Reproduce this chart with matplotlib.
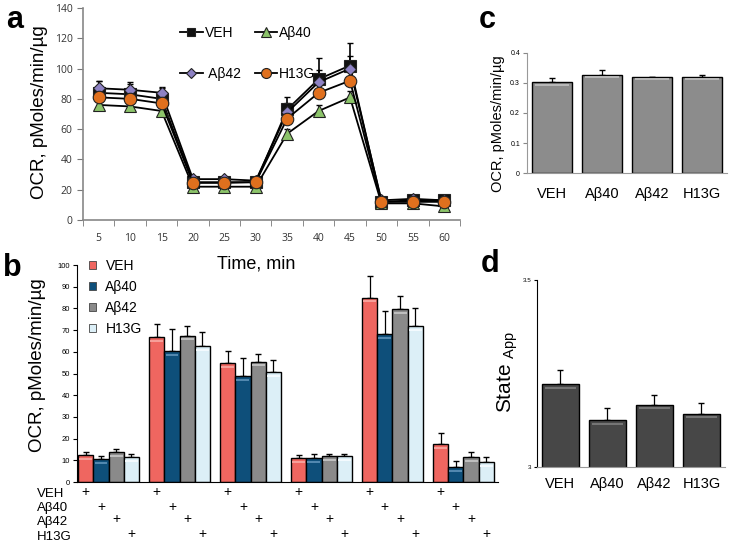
import numpy as np
import matplotlib
matplotlib.use("Agg")
import matplotlib.pyplot as plt
from matplotlib.patches import Patch
from matplotlib.transforms import blended_transform_factory

plt.rcParams["font.family"] = ["Liberation Sans", "DejaVu Sans"]
plt.rcParams["mathtext.default"] = "regular"

# panel a: OCR time course
time_min = [5, 10, 15, 20, 25, 30, 35, 40, 45, 50, 55, 60]
a_veh = [84, 83, 80, 25, 25, 25, 73, 93, 102, 12, 13, 13]
a_ab40 = [76, 75, 72, 22, 22, 22, 57, 72, 81, 11, 11, 9]
a_ab42 = [87, 86, 84, 27, 27, 26, 71, 91, 100, 13, 14, 13]
a_h13g = [81, 80, 77, 24.5, 24.5, 25, 67, 84, 92, 12, 12, 12]
a_veh_err = [8, 8, 7, 2, 2, 2, 8, 14, 15, 2, 2, 2]
a_ab40_err = [2, 2, 2, 1, 1, 1, 3, 4, 4, 1, 1, 1]
a_ab42_err = [5, 4, 4, 1, 1, 1, 6, 8, 8, 1, 1, 1]
a_h13g_err = [3, 3, 3, 1, 1, 1, 4, 5, 6, 1, 1, 1]

# panel b: OCR per measurement block
treatments = ["VEH", "A\u03b240", "A\u03b242", "H13G"]
b_veh = [12.5, 67, 55, 11, 85, 17.6]
b_ab40 = [10.5, 60.5, 49, 11, 68, 7]
b_ab42 = [14, 67.5, 55.5, 12, 79.5, 11.5]
b_h13g = [11.5, 62.5, 50.5, 12, 72, 9.2]
b_veh_err = [1.5, 6, 5.5, 1.5, 10, 5]
b_ab40_err = [1.5, 10, 8, 2, 11, 2.6]
b_ab42_err = [1.2, 4.5, 3.5, 1, 6, 2.5]
b_h13g_err = [1.5, 6.5, 5.5, 1, 8, 2.3]

# panel c: basal OCR
c_vals = [0.302, 0.327, 0.319, 0.321]
c_err = [0.016, 0.015, 0.002, 0.007]

# panel d: State App
d_vals = [3.221, 3.125, 3.166, 3.143]
d_err = [0.038, 0.034, 0.027, 0.029]


def shine(ax, pos, vals, width, span, color):
    # light stripe just under the top of each bar, like the Excel bevel
    vals = np.asarray(vals)
    ax.hlines(vals - 0.018 * span, pos - width * 0.42, pos + width * 0.42,
              colors=color, linewidth=1.3, zorder=3)


fig = plt.figure(figsize=(7.29, 5.48), dpi=100)

# ---- panel a
ax_a = fig.add_axes([0.1139, 0.5985, 0.517, 0.3869])
xs = np.arange(1, len(time_min) + 1)
series_a = {
    "VEH": (a_veh, a_veh_err, "s", "#111111", 8),
    "A\u03b240": (a_ab40, a_ab40_err, "^", "#8cc46a", 9),
    " A\u03b242": (a_ab42, a_ab42_err, "D", "#8e82c4", 6.5),
    "H13G": (a_h13g, a_h13g_err, "o", "#e0701e", 9),
}
handles = {}
for label, (vals, err, mk, col, ms) in series_a.items():
    ax_a.errorbar(xs, vals, yerr=[np.zeros(len(err)), err], fmt="none",
                  ecolor="black", elinewidth=1.2, capsize=2.5, zorder=2)
    handles[label], = ax_a.plot(xs, vals, color="black", linewidth=1.3,
                                marker=mk, markersize=ms, markerfacecolor=col,
                                markeredgecolor="#222222", markeredgewidth=0.8,
                                label=label, zorder=3)
ax_a.set_xlim(0.5, 12.5)
ax_a.set_ylim(0, 140)
ax_a.set_yticks(np.arange(0, 141, 20))
ax_a.set_xticks(xs)
ax_a.set_xticklabels(time_min)
ax_a.set_xticks(np.arange(0.5, 12.6, 1), minor=True)
ax_a.tick_params(axis="x", which="major", length=0, pad=9)
ax_a.tick_params(axis="x", which="minor", length=4, color="#777777")
ax_a.tick_params(axis="y", length=4, color="#777777")
for lab in ax_a.get_xticklabels() + ax_a.get_yticklabels():
    lab.set_fontfamily("Open Sans")
    lab.set_fontsize(7.5)
    lab.set_color("#333333")
for side in ["top", "right"]:
    ax_a.spines[side].set_visible(False)
for side in ["left", "bottom"]:
    ax_a.spines[side].set_color("#888888")
    ax_a.spines[side].set_linewidth(1.2)
leg_order = ["VEH", " A\u03b242", "A\u03b240", "H13G"]
ax_a.legend([handles[k] for k in leg_order], leg_order, loc="upper left",
            bbox_to_anchor=(0.225, 0.975), ncol=2, frameon=False, fontsize=10,
            labelspacing=1.95, handlelength=1.6, handletextpad=0.15,
            columnspacing=1.0, markerscale=0.8)

# ---- panel b
ax_b = fig.add_axes([0.1056, 0.1204, 0.5775, 0.396])
w = 0.215
groups = np.arange(len(b_veh))
series_b = [
    (b_veh, b_veh_err, "#ef6660", "#f7a6a0"),
    (b_ab40, b_ab40_err, "#0e4f7a", "#5a8fb5"),
    (b_ab42, b_ab42_err, "#8a8a8a", "#c4c4c4"),
    (b_h13g, b_h13g_err, "#dceff7", "#f6fcff"),
]
for j, (vals, err, col, hi) in enumerate(series_b):
    pos = groups + (j - 1.5) * w
    ax_b.bar(pos, vals, width=w, color=col, edgecolor="black", linewidth=1.0,
             zorder=2)
    shine(ax_b, pos, vals, w, 100, hi)
    ax_b.errorbar(pos, vals, yerr=[np.zeros(len(err)), err], fmt="none",
                  ecolor="black", elinewidth=0.9, capsize=2.5, zorder=1)
ax_b.set_xlim(-0.445, 5.486)
ax_b.set_ylim(0, 100)
ax_b.set_yticks(np.arange(0, 101, 10))
ax_b.set_xticks([])
ax_b.tick_params(axis="y", length=3, labelsize=5.5, pad=2)
for side in ["top", "right"]:
    ax_b.spines[side].set_visible(False)
ax_b.legend(handles=[Patch(facecolor=c, edgecolor="#444444", linewidth=0.6)
                     for _, _, c, _ in series_b],
            labels=treatments, loc="upper left", bbox_to_anchor=(0.0, 1.085),
            frameon=False, fontsize=10, handlelength=0.45, handleheight=0.45,
            handletextpad=0.7, labelspacing=0.5)

# treatment table under panel b
trans = blended_transform_factory(ax_b.transData, ax_b.transAxes)
plus_px = [492, 506.5, 519, 533.5]
label_px = [494, 508.5, 522.5, 537]
for j, name in enumerate(treatments):
    yax = (482 - plus_px[j]) / 217
    for g in groups:
        ax_b.text(g + (j - 1.5) * w, yax, "+", transform=trans, ha="center",
                  va="center", fontsize=10, clip_on=False)
    fig.text(37 / 729, 1 - label_px[j] / 548, name, ha="left",
             va="center", fontsize=9.5)

# ---- panel c
ax_c = fig.add_axes([0.7229, 0.6843, 0.2743, 0.219])
xc = np.arange(len(c_vals))
ax_c.bar(xc, c_vals, width=0.79, color="#8c8c8c", edgecolor="black",
         linewidth=1.0, zorder=2)
shine(ax_c, xc, c_vals, 0.79, 0.4, "#bdbdbd")
ax_c.errorbar(xc, c_vals, yerr=[np.zeros(4), c_err], fmt="none",
              ecolor="black", elinewidth=0.9, capsize=2.5, zorder=1)
ax_c.set_xlim(-0.5, 3.5)
ax_c.set_ylim(0, 0.4)
ax_c.set_yticks([0, 0.1, 0.2, 0.3, 0.4])
ax_c.set_yticklabels(["0", "0.1", "0.2", "0.3", "0.4"])
ax_c.set_xticks(xc)
ax_c.set_xticklabels(treatments, fontsize=10.5)
ax_c.tick_params(axis="x", length=0, pad=10)
ax_c.tick_params(axis="y", length=3, labelsize=5, pad=2, color="#888888")
for side in ["top", "right"]:
    ax_c.spines[side].set_visible(False)
for side in ["left", "bottom"]:
    ax_c.spines[side].set_color("#999999")

# ---- panel d
ax_d = fig.add_axes([0.7366, 0.1478, 0.2579, 0.3412])
xd = np.arange(len(d_vals))
ax_d.bar(xd, d_vals, width=0.8, color="#474747", edgecolor="black",
         linewidth=1.0, zorder=2)
shine(ax_d, xd, d_vals, 0.8, 0.5, "#7a7a7a")
ax_d.errorbar(xd, d_vals, yerr=[np.zeros(4), d_err], fmt="none",
              ecolor="black", elinewidth=0.9, capsize=2.5, zorder=1)
ax_d.set_xlim(-0.5, 3.5)
ax_d.set_ylim(3, 3.5)
ax_d.set_yticks([3, 3.5])
ax_d.set_yticklabels(["3", "3.5"])
ax_d.set_xticks(xd)
ax_d.set_xticklabels(treatments, fontsize=10.5)
ax_d.tick_params(axis="x", length=0, pad=7)
ax_d.tick_params(axis="y", length=2, labelsize=4.5, pad=2)
for side in ["top", "right"]:
    ax_d.spines[side].set_visible(False)
ax_d.spines["bottom"].set_color("#999999")

# axis titles and panel letters
fig.text(256 / 729, 1 - 264 / 548, "Time, min", ha="center", va="center",
         fontsize=13)
fig.text(40 / 729, 1 - 112 / 548, "OCR, pMoles/min/\u00b5g", rotation=90,
         ha="center", va="center", fontsize=13.5)
fig.text(38 / 729, 1 - 365 / 548, "OCR, pMoles/min/\u00b5g", rotation=90,
         ha="center", va="center", fontsize=13.5)
fig.text(498 / 729, 1 - 124 / 548, "OCR, pMoles/min/\u00b5g", rotation=90,
         ha="center", va="center", fontsize=10.5)
fig.text(508 / 729, 1 - 372 / 548, "State $_{App}$", rotation=90,
         ha="center", va="center", fontsize=15)
for letter, px, py in [("a", 15, 20), ("b", 12, 268), ("c", 487, 20),
                       ("d", 490, 264)]:
    fig.text(px / 729, 1 - py / 548, letter, ha="center", va="center",
             fontsize=22, fontweight="bold")

fig.savefig("out.png", dpi=100)
